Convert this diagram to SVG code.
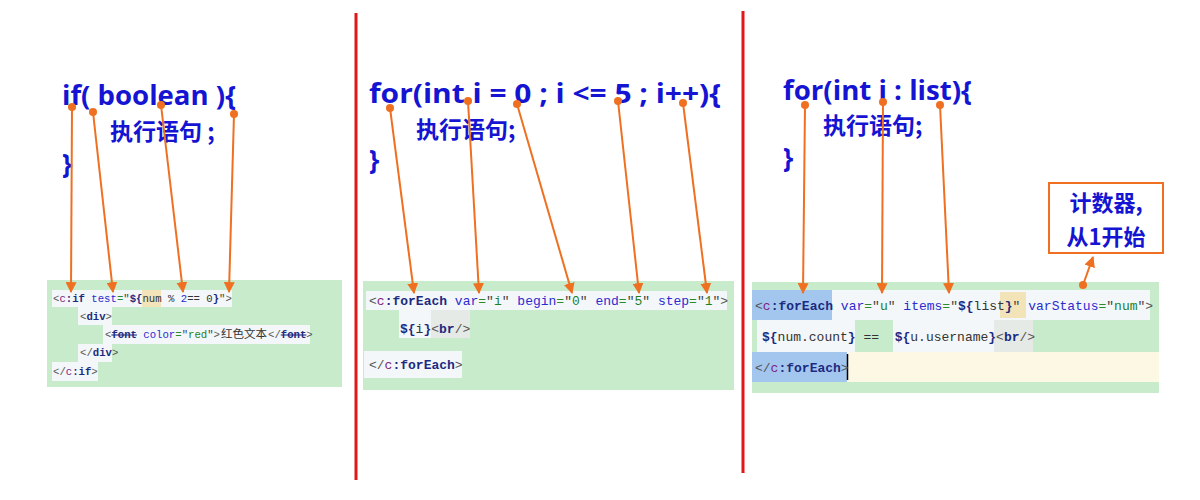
<svg xmlns="http://www.w3.org/2000/svg" width="1200" height="500" viewBox="0 0 1200 500">
<defs>
<marker id="ah" viewBox="0 0 10 10" refX="9" refY="5" markerWidth="11" markerHeight="11" markerUnits="userSpaceOnUse" orient="auto">
<path d="M0,0 L10,5 L0,10 z" fill="#ee7020"/>
</marker>
<style>
.hd{font-family:"Open Sans","Noto Sans CJK SC",sans-serif;font-weight:bold;fill:#1414d2;}
.cj{font-family:"Noto Sans CJK SC",sans-serif;font-weight:bold;fill:#1414d2;}
.code{font-family:"Liberation Mono","DejaVu Sans Mono",monospace;}
.lt{fill:#555555}
.ns{fill:#7f1f7f}
.tg{fill:#1c2a80;font-weight:bold}
.at{fill:#2b2bd0}
.eq{fill:#2a8a2a}
.q{fill:#444444}
.v{fill:#1f7f1f}
.dk{fill:#333333}
.el{fill:#1c2a80;font-weight:bold}
.green{fill:#c8ebcc}
.wh{fill:#f3f7fa}
.gr{fill:#e6eae6}
.bl{fill:#a3c6ee}
.conn line{stroke:#ee7020;stroke-width:2;marker-end:url(#ah)}
.conn circle{fill:#ee7020}
.div{stroke:#e01818;stroke-width:3}
</style>
</defs>
<rect width="1200" height="500" fill="#ffffff"/>

<g id="dividers">
<line class="div" x1="356" y1="13" x2="356" y2="480"/>
<line class="div" x1="743" y1="11" x2="743" y2="473"/>
</g>

<g id="panel-if">
<text class="hd" x="62" y="105" font-size="26" textLength="174" lengthAdjust="spacingAndGlyphs">if( boolean ){</text>
<text class="cj" x="110" y="140" font-size="23">执行语句 ;</text>
<text class="hd" x="62" y="173" font-size="26">}</text>
<rect class="green" x="47" y="280" width="295" height="107"/>
<rect class="wh" x="52" y="290" width="180" height="17"/>
<rect x="142" y="290" width="19" height="17" fill="#f3e3b8"/>
<rect class="wh" x="78" y="307" width="34" height="18"/>
<rect class="wh" x="103" y="325" width="207" height="19"/>
<rect class="wh" x="78" y="344" width="34" height="18"/>
<rect class="wh" x="52" y="362" width="46" height="19"/>
<g class="code" font-size="10.65">
<text x="53" y="302"><tspan class="lt">&lt;</tspan><tspan class="ns">c</tspan><tspan class="tg">:if</tspan> <tspan class="at">test</tspan><tspan class="eq">=</tspan><tspan class="q">"</tspan><tspan class="el">${</tspan><tspan class="dk">num % </tspan><tspan class="at">2</tspan><tspan class="dk">== 0</tspan><tspan class="el">}</tspan><tspan class="q">"</tspan><tspan class="lt">&gt;</tspan></text>
<text x="80" y="320"><tspan class="lt">&lt;</tspan><tspan class="tg">div</tspan><tspan class="lt">&gt;</tspan></text>
<text x="105" y="338"><tspan class="lt">&lt;</tspan><tspan class="tg" text-decoration="line-through">font</tspan> <tspan class="at">color</tspan><tspan class="eq">=</tspan><tspan class="q">"</tspan><tspan class="v">red</tspan><tspan class="q">"</tspan><tspan class="lt">&gt;</tspan></text>
<text x="221" y="338" font-family="Noto Sans CJK SC, sans-serif" font-size="11.5" fill="#333333">红色文本</text>
<text x="268" y="338"><tspan class="lt">&lt;/</tspan><tspan class="tg" text-decoration="line-through">font</tspan><tspan class="lt">&gt;</tspan></text>
<text x="80" y="356"><tspan class="lt">&lt;/</tspan><tspan class="tg">div</tspan><tspan class="lt">&gt;</tspan></text>
<text x="53" y="375"><tspan class="lt">&lt;/</tspan><tspan class="ns">c</tspan><tspan class="tg">:if</tspan><tspan class="lt">&gt;</tspan></text>
</g>
</g>

<g id="panel-for">
<text class="hd" x="369" y="103" font-size="26" textLength="352" lengthAdjust="spacingAndGlyphs">for(int i = 0 ; i &lt;= 5 ; i++){</text>
<text class="cj" x="416" y="138" font-size="23">执行语句;</text>
<text class="hd" x="369" y="169" font-size="26">}</text>
<rect class="green" x="363" y="281" width="371" height="109"/>
<rect class="wh" x="366" y="291" width="361" height="19"/>
<rect class="wh" x="399" y="310" width="32" height="28"/>
<rect class="gr" x="431" y="310" width="39" height="28"/>
<rect class="wh" x="364" y="351" width="98" height="27"/>
<g class="code" font-size="13">
<text x="369" y="305"><tspan class="lt">&lt;</tspan><tspan class="ns">c</tspan><tspan class="tg">:forEach</tspan> <tspan class="at">var</tspan><tspan class="eq">=</tspan><tspan class="q">"</tspan><tspan class="v">i</tspan><tspan class="q">"</tspan> <tspan class="at">begin</tspan><tspan class="eq">=</tspan><tspan class="q">"</tspan><tspan class="v">0</tspan><tspan class="q">"</tspan> <tspan class="at">end</tspan><tspan class="eq">=</tspan><tspan class="q">"</tspan><tspan class="v">5</tspan><tspan class="q">"</tspan> <tspan class="at">step</tspan><tspan class="eq">=</tspan><tspan class="q">"</tspan><tspan class="v">1</tspan><tspan class="q">"</tspan><tspan class="lt">&gt;</tspan></text>
<text x="400" y="333"><tspan class="el">${</tspan><tspan class="dk">i</tspan><tspan class="el">}</tspan><tspan class="lt">&lt;</tspan><tspan class="tg">br</tspan><tspan class="lt">/&gt;</tspan></text>
<text x="369" y="369"><tspan class="lt">&lt;/</tspan><tspan class="ns">c</tspan><tspan class="tg">:forEach</tspan><tspan class="lt">&gt;</tspan></text>
</g>
</g>

<g id="panel-foreach">
<text class="hd" x="783" y="100" font-size="26" textLength="189" lengthAdjust="spacingAndGlyphs">for(int i : list){</text>
<text class="cj" x="823" y="134" font-size="23">执行语句;</text>
<text class="hd" x="783" y="167" font-size="26">}</text>
<rect class="green" x="752" y="282" width="407" height="111"/>
<rect class="bl" x="752" y="290" width="80" height="30"/>
<rect class="wh" x="832" y="290" width="318" height="30"/>
<rect x="1000" y="292" width="26" height="26" fill="#f3e3b8"/>
<rect class="wh" x="757" y="320" width="98" height="32"/>
<rect class="wh" x="893" y="320" width="101" height="32"/>
<rect class="gr" x="994" y="320" width="39" height="32"/>
<rect class="bl" x="752" y="352" width="95" height="30"/>
<rect x="847" y="352" width="312" height="30" fill="#fdf8e3"/>
<line x1="847.5" y1="354" x2="847.5" y2="380" stroke="#000000" stroke-width="1.5"/>
<g class="code" font-size="13">
<text x="755" y="310"><tspan class="lt">&lt;</tspan><tspan class="ns">c</tspan><tspan class="tg">:forEach</tspan> <tspan class="at">var</tspan><tspan class="eq">=</tspan><tspan class="q">"</tspan><tspan class="v">u</tspan><tspan class="q">"</tspan> <tspan class="at">items</tspan><tspan class="eq">=</tspan><tspan class="q">"</tspan><tspan class="el">${</tspan><tspan class="dk">list</tspan><tspan class="el">}</tspan><tspan class="q">"</tspan> <tspan class="at">varStatus</tspan><tspan class="eq">=</tspan><tspan class="q">"</tspan><tspan class="v">num</tspan><tspan class="q">"</tspan><tspan class="lt">&gt;</tspan></text>
<text x="762" y="341" xml:space="preserve"><tspan class="el">${</tspan><tspan class="dk">num.count</tspan><tspan class="el">}</tspan> <tspan class="dk">==</tspan>  <tspan class="el">${</tspan><tspan class="dk">u.username</tspan><tspan class="el">}</tspan><tspan class="lt">&lt;</tspan><tspan class="tg">br</tspan><tspan class="lt">/&gt;</tspan></text>
<text x="755" y="372"><tspan class="lt">&lt;/</tspan><tspan class="ns">c</tspan><tspan class="tg">:forEach</tspan><tspan class="lt">&gt;</tspan></text>
</g>
</g>

<g id="counter-note">
<rect x="1049" y="183" width="114" height="70" fill="#ffffff" stroke="#ee7020" stroke-width="2"/>
<text class="cj" x="1106" y="211" font-size="22" text-anchor="middle">计数器,</text>
<text class="cj" x="1106" y="245" font-size="22" text-anchor="middle">从1开始</text>
</g>

<g id="connectors" class="conn">
<circle cx="72" cy="107" r="4"/><line x1="72" y1="107" x2="71" y2="292"/>
<circle cx="93" cy="112" r="4"/><line x1="93" y1="112" x2="113" y2="292"/>
<circle cx="161" cy="105" r="4"/><line x1="161" y1="105" x2="183" y2="292"/>
<circle cx="234" cy="114" r="4"/><line x1="234" y1="114" x2="229" y2="292"/>
<circle cx="390" cy="108" r="4"/><line x1="390" y1="108" x2="414" y2="293"/>
<circle cx="468" cy="101" r="4"/><line x1="468" y1="101" x2="479" y2="293"/>
<circle cx="517" cy="104" r="4"/><line x1="517" y1="104" x2="572" y2="293"/>
<circle cx="618" cy="101" r="4"/><line x1="618" y1="101" x2="639" y2="293"/>
<circle cx="683" cy="103" r="4"/><line x1="683" y1="103" x2="707" y2="293"/>
<circle cx="805" cy="105" r="4"/><line x1="805" y1="105" x2="803" y2="293"/>
<circle cx="883" cy="102" r="4"/><line x1="883" y1="102" x2="882" y2="293"/>
<circle cx="940" cy="105" r="4"/><line x1="940" y1="105" x2="949" y2="293"/>
<circle cx="1083" cy="285" r="4"/><line x1="1083" y1="285" x2="1093" y2="257"/>
</g>
</svg>
